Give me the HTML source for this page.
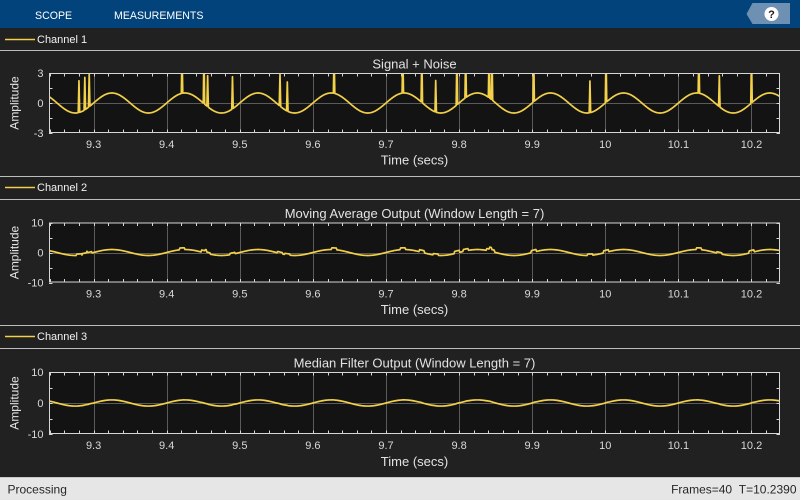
<!DOCTYPE html>
<html>
<head>
<meta charset="utf-8">
<style>
  html,body{margin:0;padding:0;background:#212121;}
  body{width:800px;height:500px;overflow:hidden;font-family:"Liberation Sans",Arial,sans-serif;}
  svg{display:block;}
  .tk{font-size:11px;fill:#d9d9d9;}
  .ttl{font-size:13px;fill:#e3e3e3;}
  .xl{font-size:13px;fill:#e3e3e3;}
  .yl{font-size:12px;fill:#e3e3e3;}
  .lg{font-size:11px;fill:#f2f2f2;}
</style>
</head>
<body>
<svg id="s" width="800" height="500" viewBox="0 0 800 500" xmlns="http://www.w3.org/2000/svg">
  <rect x="0" y="0" width="800" height="500" fill="#212121"/>
  <!-- toolbar -->
  <rect x="0" y="0" width="800" height="28" fill="#02437b"/>
  <text x="35" y="19" font-size="10.6" fill="#ffffff">SCOPE</text>
  <text x="114" y="19" font-size="10.6" fill="#ffffff">MEASUREMENTS</text>
  <path d="M746.5,14 L752.5,3 L790,3 L790,24 L752.5,24 Z" fill="#6e90b3"/>
  <circle cx="771.5" cy="14" r="7" fill="#ffffff"/>
  <text x="771.5" y="18" font-size="11" font-weight="bold" fill="#1a1a1a" text-anchor="middle">?</text>

  <!-- legend strips -->
  <line x1="5" y1="39.5" x2="35" y2="39.5" stroke="#f2d04a" stroke-width="1.5"/>
  <text class="lg" x="37" y="43">Channel 1</text>
  <line x1="0" y1="50.5" x2="800" y2="50.5" stroke="#bdbdbd" stroke-width="1"/>

  <line x1="0" y1="176.5" x2="800" y2="176.5" stroke="#bdbdbd" stroke-width="1"/>
  <line x1="5" y1="187.5" x2="35" y2="187.5" stroke="#f2d04a" stroke-width="1.5"/>
  <text class="lg" x="37" y="191">Channel 2</text>
  <line x1="0" y1="199.5" x2="800" y2="199.5" stroke="#bdbdbd" stroke-width="1"/>

  <line x1="0" y1="325.5" x2="800" y2="325.5" stroke="#bdbdbd" stroke-width="1"/>
  <line x1="5" y1="336.5" x2="35" y2="336.5" stroke="#f2d04a" stroke-width="1.5"/>
  <text class="lg" x="37" y="340">Channel 3</text>
  <line x1="0" y1="348.5" x2="800" y2="348.5" stroke="#bdbdbd" stroke-width="1"/>

  <g id="plots"></g>

  <!-- Panel 1 texts -->
  <text class="ttl" x="414.5" y="68.5" text-anchor="middle">Signal + Noise</text>
  <text class="tk" x="43.5" y="77" text-anchor="end">3</text>
  <text class="tk" x="43.5" y="107" text-anchor="end">0</text>
  <text class="tk" x="43.5" y="137" text-anchor="end">-3</text>
  <text class="yl" transform="translate(18.5,103) rotate(-90)" text-anchor="middle">Amplitude</text>
  <g class="tk" text-anchor="middle">
    <text x="93.6" y="148">9.3</text><text x="166.7" y="148">9.4</text><text x="239.8" y="148">9.5</text>
    <text x="312.9" y="148">9.6</text><text x="386" y="148">9.7</text><text x="459.1" y="148">9.8</text>
    <text x="532.2" y="148">9.9</text><text x="605.3" y="148">10</text><text x="678.4" y="148">10.1</text>
    <text x="751.5" y="148">10.2</text>
  </g>
  <text class="xl" x="414.5" y="164.5" text-anchor="middle">Time (secs)</text>

  <!-- Panel 2 texts -->
  <text class="ttl" x="414.5" y="218" text-anchor="middle">Moving Average Output (Window Length = 7)</text>
  <text class="tk" x="43.5" y="226.5" text-anchor="end">10</text>
  <text class="tk" x="43.5" y="256.5" text-anchor="end">0</text>
  <text class="tk" x="43.5" y="286.5" text-anchor="end">-10</text>
  <text class="yl" transform="translate(18.5,252.5) rotate(-90)" text-anchor="middle">Amplitude</text>
  <g class="tk" text-anchor="middle">
    <text x="93.6" y="297.5">9.3</text><text x="166.7" y="297.5">9.4</text><text x="239.8" y="297.5">9.5</text>
    <text x="312.9" y="297.5">9.6</text><text x="386" y="297.5">9.7</text><text x="459.1" y="297.5">9.8</text>
    <text x="532.2" y="297.5">9.9</text><text x="605.3" y="297.5">10</text><text x="678.4" y="297.5">10.1</text>
    <text x="751.5" y="297.5">10.2</text>
  </g>
  <text class="xl" x="414.5" y="314" text-anchor="middle">Time (secs)</text>

  <!-- Panel 3 texts -->
  <text class="ttl" x="414.5" y="367.5" text-anchor="middle">Median Filter Output (Window Length = 7)</text>
  <text class="tk" x="43.5" y="376" text-anchor="end">10</text>
  <text class="tk" x="43.5" y="407" text-anchor="end">0</text>
  <text class="tk" x="43.5" y="438" text-anchor="end">-10</text>
  <text class="yl" transform="translate(18.5,403) rotate(-90)" text-anchor="middle">Amplitude</text>
  <g class="tk" text-anchor="middle">
    <text x="93.6" y="449">9.3</text><text x="166.7" y="449">9.4</text><text x="239.8" y="449">9.5</text>
    <text x="312.9" y="449">9.6</text><text x="386" y="449">9.7</text><text x="459.1" y="449">9.8</text>
    <text x="532.2" y="449">9.9</text><text x="605.3" y="449">10</text><text x="678.4" y="449">10.1</text>
    <text x="751.5" y="449">10.2</text>
  </g>
  <text class="xl" x="414.5" y="466" text-anchor="middle">Time (secs)</text>

  <!-- status bar -->
  <rect x="0" y="477" width="800" height="23" fill="#e6e6e6"/>
  <line x1="0" y1="477.5" x2="800" y2="477.5" stroke="#c9c9c9" stroke-width="1"/>
  <text x="7.5" y="493.5" font-size="12" fill="#262626">Processing</text>
  <text x="796.5" y="493.5" font-size="12" fill="#262626" text-anchor="end">Frames=40 &#160;T=10.2390</text>
</svg>
<script>
(function(){
  var NS="http://www.w3.org/2000/svg";
  var g=document.getElementById("plots");
  var X0=49,X1=780,W=731,T0=9.239;
  function xt(t){return X0+(t-T0)*W;}
  function el(n,a){var e=document.createElementNS(NS,n);for(var k in a)e.setAttribute(k,a[k]);g.appendChild(e);return e;}
  var N=1001,fs=1000;
  var s=new Array(N);
  for(var n=0;n<N;n++){var t=T0+n/fs;var f=(10*t)%1;s[n]=Math.sin(2*Math.PI*f);}
  var spikes=[[79.3,81.7],[85,78.3],[89.3,75],[182.3,null],[204.3,null],[207.3,76.7],[232.3,77.7],
    [280,75],[287.5,83],[334,null],[402.7,null],[422,null],[436,81.5],[456.7,null],[465.5,null],
    [489.2,null],[492.3,null],[534,null],[590.2,82],[606,null],[699.2,null],[719,76.7],[751.5,null]];
  spikes.forEach(function(sp){
    var i=Math.round((sp[0]-X0)/W*1000);
    var v=sp[1]===null?5:(103-sp[1])/10+0.1;
    if(i>=0&&i<N)s[i]=v;
  });
  var ma=new Array(N),md=new Array(N);
  for(var n=0;n<N;n++){
    var a=Math.max(0,n-3),b=Math.min(N-1,n+3),sum=0,arr=[];
    for(var k=a;k<=b;k++){sum+=s[k];arr.push(s[k]);}
    ma[n]=sum/(b-a+1);
    arr.sort(function(p,q){return p-q;});
    md[n]=arr[Math.floor(arr.length/2)];
  }
  var panels=[
    {top:73,bot:133,vmax:3,data:s,id:"c1"},
    {top:222.5,bot:282.5,vmax:10,data:ma,id:"c2"},
    {top:372,bot:434,vmax:10,data:md,id:"c3"}
  ];
  var defs=document.createElementNS(NS,"defs");g.appendChild(defs);
  panels.forEach(function(p){
    var mid=(p.top+p.bot)/2;
    var sc=(p.bot-p.top)/(2*p.vmax);
    el("rect",{x:X0,y:p.top,width:W,height:p.bot-p.top,fill:"#131313"});
    var cp=document.createElementNS(NS,"clipPath");cp.setAttribute("id",p.id);
    var cr=document.createElementNS(NS,"rect");
    cr.setAttribute("x",X0);cr.setAttribute("y",p.top);cr.setAttribute("width",W);cr.setAttribute("height",p.bot-p.top);
    cp.appendChild(cr);defs.appendChild(cp);
    for(var j=0;j<10;j++){
      var x=Math.round(xt(9.3+j*0.1))+0.5;
      el("line",{x1:x,y1:p.top,x2:x,y2:p.bot,stroke:"#5a5a5a","stroke-width":1});
    }
    var ym=Math.round(mid)+0.5;
    el("line",{x1:X0,y1:ym,x2:X1,y2:ym,stroke:"#5a5a5a","stroke-width":1});
    for(var k=0;k<50;k++){
      var x=Math.round(xt(9.24+k*0.02))+0.5;
      el("line",{x1:x,y1:p.top,x2:x,y2:p.top+3.5,stroke:"#d6d6d6","stroke-width":1});
      el("line",{x1:x,y1:p.bot-3.5,x2:x,y2:p.bot,stroke:"#d6d6d6","stroke-width":1});
    }
    [1,0.5,0,-0.5,-1].forEach(function(f){
      var y=Math.round(mid-f*p.vmax*sc)+0.5;
      el("line",{x1:X0,y1:y,x2:X0+3.5,y2:y,stroke:"#d6d6d6","stroke-width":1});
      el("line",{x1:X1-3.5,y1:y,x2:X1,y2:y,stroke:"#d6d6d6","stroke-width":1});
    });
    var d="";
    for(var n=0;n<N;n++){
      var x=xt(T0+n/fs),y=mid-p.data[n]*sc;
      d+=(n?"L":"M")+x.toFixed(2)+","+y.toFixed(2);
    }
    el("path",{d:d,fill:"none",stroke:"#f2d04a","stroke-width":1.7,"stroke-linejoin":"round","clip-path":"url(#"+p.id+")"});
    el("rect",{x:X0+0.5,y:p.top+0.5,width:W-1,height:p.bot-p.top-1,fill:"none",stroke:"#d6d6d6","stroke-width":1});
  });
})();
</script>
</body>
</html>
